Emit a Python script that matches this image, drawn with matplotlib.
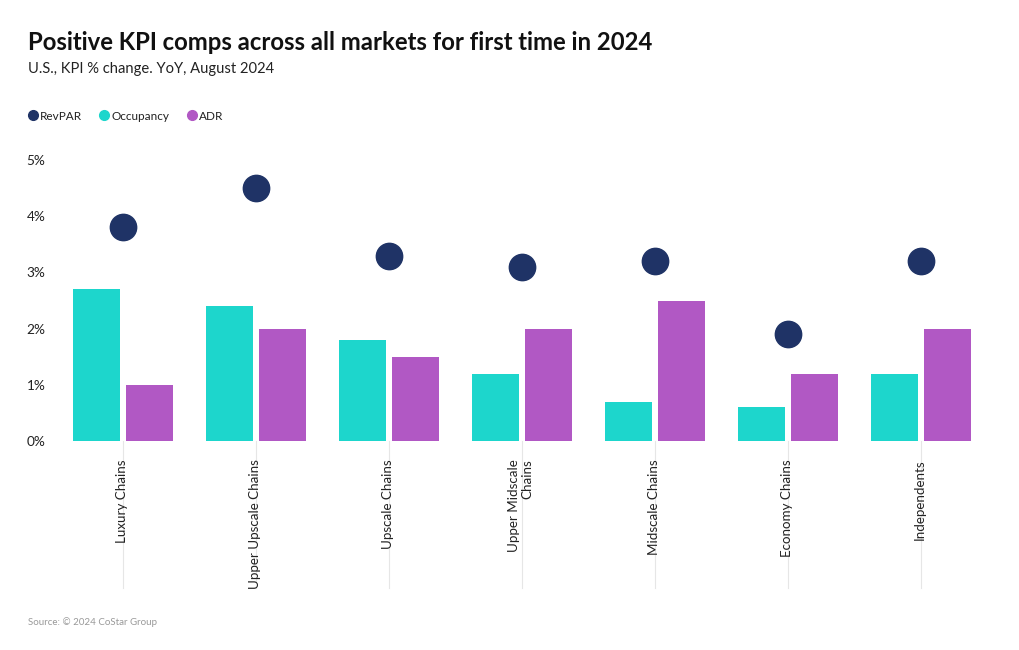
import matplotlib
matplotlib.use("Agg")
import matplotlib.pyplot as plt
from matplotlib.lines import Line2D
import numpy as np

categories = ["Luxury Chains", "Upper Upscale Chains", "Upscale Chains",
              "Upper Midscale\nChains", "Midscale Chains", "Economy Chains", "Independents"]
revpar = [3.8, 4.5, 3.3, 3.1, 3.2, 1.9, 3.2]
occupancy = [2.7, 2.4, 1.8, 1.2, 0.7, 0.6, 1.2]
adr = [1.0, 2.0, 1.5, 2.0, 2.5, 1.2, 2.0]
yticks = [0, 1, 2, 3, 4, 5]
ytick_labels = ["0%", "1%", "2%", "3%", "4%", "5%"]

C_REV = "#1f3366"
C_OCC = "#1dd6cc"
C_ADR = "#b158c4"

plt.rcParams["font.family"] = ["Lato", "DejaVu Sans"]

W, H = 1020, 650
fig = plt.figure(figsize=(W / 100, H / 100), dpi=100)
left, right, bottom, top = 56.5, 987.5, 441, 160
ax = fig.add_axes([left / W, 1 - bottom / H, (right - left) / W, (bottom - top) / H])

x = np.arange(len(categories))
bw = 0.35
off = 0.2
ax.bar(x - off, occupancy, width=bw, color=C_OCC, zorder=2)
ax.bar(x + off, adr, width=bw, color=C_ADR, zorder=2)
ax.scatter(x, revpar, s=360, color=C_REV, zorder=3, clip_on=False)

ax.set_xlim(-0.5, len(categories) - 0.5)
ax.set_ylim(0, 5)
ax.set_yticks(yticks)
ax.set_yticklabels(ytick_labels, fontsize=9.8, color="#222222")
ax.tick_params(axis="y", length=0, pad=8)

ax.set_xticks([])
for s in ax.spines.values():
    s.set_visible(False)

trans = ax.get_xaxis_transform()
for xi, cat in zip(x, categories):
    ax.plot([xi, xi], [0, -0.523], transform=trans, color="#e6e6e6", lw=0.8,
            clip_on=False, zorder=1)
    ax.text(xi - 0.01, -0.066, cat, transform=trans, rotation=90, ha="center", va="top",
            multialignment="right", fontsize=9.6, color="#222222", linespacing=1.15)

fig.text(28 / W, 1 - 43 / H, "Positive KPI comps across all markets for first time in 2024",
         fontsize=17.2, fontweight="bold", color="#111111", va="center", ha="left")
fig.text(28 / W, 1 - 69 / H, "U.S., KPI % change. YoY, August 2024",
         fontsize=10.6, color="#222222", va="center", ha="left")
fig.text(28 / W, 1 - 622 / H, "Source: © 2024 CoStar Group",
         fontsize=7, color="#999999", va="center", ha="left")

handles = [Line2D([], [], marker="o", ls="", color=c, markersize=7)
           for c in (C_REV, C_OCC, C_ADR)]
fig.legend(handles, ["RevPAR", "Occupancy", "ADR"], loc="center left",
           bbox_to_anchor=(15 / W, 1 - 116 / H), ncol=3, frameon=False,
           fontsize=8.5, handletextpad=0.0, columnspacing=1.3, handlelength=1.2,
           labelcolor="#222222")

fig.savefig("out.png", dpi=100, facecolor="white")
